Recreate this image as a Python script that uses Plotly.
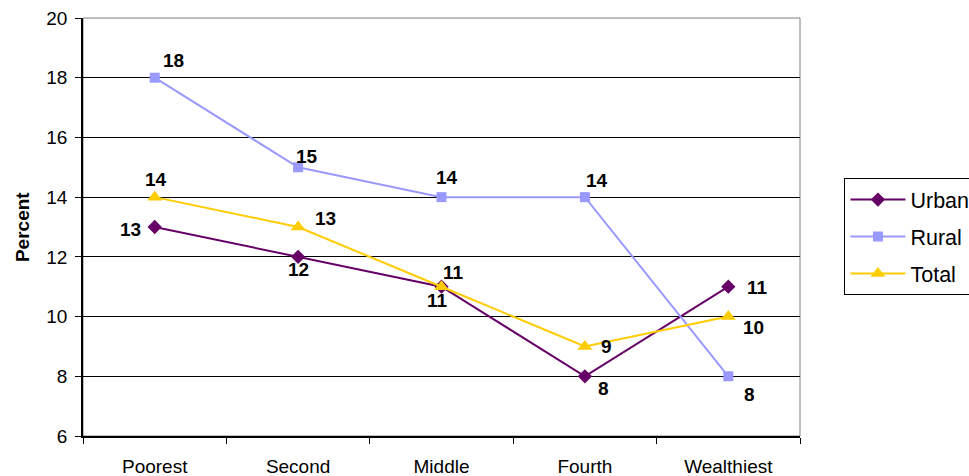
import plotly.graph_objects as go

# Quintile categories and percentages per residence type
categories = ["Poorest", "Second", "Middle", "Fourth", "Wealthiest"]
urban = [13, 12, 11, 8, 11]
rural = [18, 15, 14, 14, 8]
total = [14, 13, 11, 9, 10]
y_ticks = [6, 8, 10, 12, 14, 16, 18, 20]

# Label offsets (pixels) for each point's value label
urban_off = [(-24, 2), (0, 13), (-4, 14), (19, 12), (29, 1)]
rural_off = [(19, -17), (9, -11), (5, -20), (12, -17), (21, 18)]
total_off = [(1, -18), (27, -9), (12, -14), (22, 0), (25, 11)]

FONT = "Liberation Sans, Arial, sans-serif"

series = [
    ("Urban", urban, "#660066", "diamond", 11, urban_off),
    ("Rural", rural, "#9999FF", "square", 10, rural_off),
    ("Total", total, "#FFCC00", "triangle-up", 13, total_off),
]

fig = go.Figure()
annotations = []
for name, vals, color, symbol, msize, offs in series:
    fig.add_trace(go.Scatter(
        x=categories, y=vals, name=name, mode="lines+markers",
        line=dict(color=color, width=2),
        marker=dict(symbol=symbol, size=msize, color=color),
        legendgroup=name,
    ))
    for cat, v, (dx, dy) in zip(categories, vals, offs):
        annotations.append(dict(
            x=cat, y=v, xref="x", yref="y", text=f"<b>{v}</b>",
            showarrow=False, xshift=dx, yshift=-dy,
            font=dict(family=FONT, size=19, color="black"),
        ))

annotations.append(dict(
    x=-0.085, y=0.5, xref="paper", yref="paper", text="<b>Percent</b>",
    showarrow=False, textangle=-90, xanchor="center", yanchor="middle",
    font=dict(family=FONT, size=19, color="black"),
))

fig.update_layout(
    width=969, height=476,
    margin=dict(l=83, r=169, t=18, b=40, autoexpand=False),
    paper_bgcolor="white", plot_bgcolor="white",
    font=dict(family=FONT, size=19, color="black"),
    showlegend=True,
    legend=dict(
        x=1.062, y=0.617, xanchor="left", yanchor="top",
        bordercolor="black", borderwidth=1, bgcolor="white",
        font=dict(family=FONT, size=21.5, color="black"),
        tracegroupgap=6, traceorder="grouped", itemwidth=55,
    ),
    annotations=annotations,
    shapes=[dict(type="rect", xref="paper", yref="paper", x0=0, x1=1, y0=0, y1=1,
                 line=dict(color="#808080", width=1), layer="below")],
)

fig.update_xaxes(
    type="category", range=[-0.5, 4.5], tickson="boundaries",
    ticks="outside", ticklen=6, tickcolor="black",
    showline=True, linecolor="black", linewidth=1.5,
    showgrid=False, ticklabelstandoff=12,
    tickfont=dict(family=FONT, size=19),
)
fig.update_yaxes(
    range=[6, 20], tickvals=y_ticks,
    ticks="outside", ticklen=6, tickcolor="black",
    showline=True, linecolor="black", linewidth=1.5,
    showgrid=True, gridcolor="black", gridwidth=1,
    zeroline=False, ticklabelstandoff=4,
    tickfont=dict(family=FONT, size=19),
)

fig.write_html("out.html")
